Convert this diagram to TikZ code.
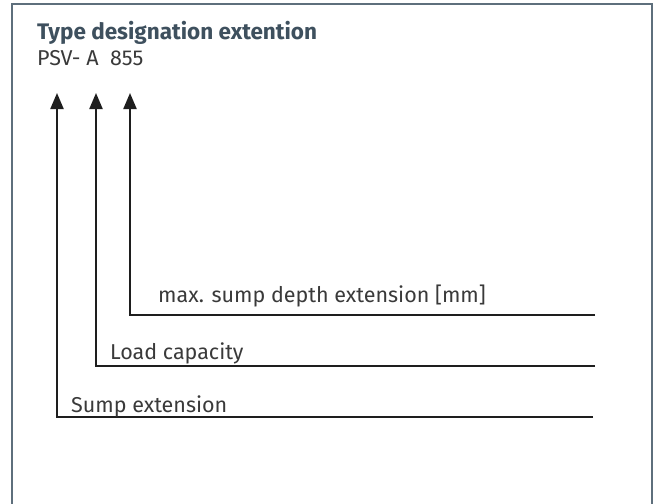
\documentclass[tikz,border=0pt]{standalone}
\usepackage{fontspec}
\setmainfont{Fira Sans}
\usetikzlibrary{arrows.meta}
\definecolor{framecol}{HTML}{5E6F7C}
\definecolor{titlecol}{HTML}{3E505E}
\definecolor{textcol}{HTML}{3A3A3A}
\definecolor{linecol}{HTML}{1E1E1E}
\tikzset{
  frameline/.style={draw=framecol, line width=1.5pt},
  leader/.style={draw=linecol, line width=2.2pt, -{Triangle[length=16pt,width=13pt]}},
  label/.style={anchor=base west, inner sep=0pt, text=textcol, font=\fontsize{21.5}{24}\selectfont},
}
\begin{document}
\begin{tikzpicture}[x=1pt,y=-1pt]
\useasboundingbox (0,0) rectangle (657,504);
\fill[white] (0,0) rectangle (657,504);
\draw[frameline] (12,504) -- (12,4) -- (652,4) -- (652,504);
\node[anchor=base west, inner sep=0pt, text=titlecol, font=\fontsize{22.5}{24}\selectfont\bfseries] (title) at (37,39) {Type designation extention};
\node[label] (code) at (37,65) {PSV- A\ \ 855};
\coordinate (a1) at (57,93);
\coordinate (a2) at (96,93);
\coordinate (a3) at (130,93);
\coordinate (e1) at (593,417);
\coordinate (e2) at (595,366);
\coordinate (e3) at (595,315);
\draw[leader] (e1) -| (a1);
\draw[leader] (e2) -| (a2);
\draw[leader] (e3) -| (a3);
\node[label] (l3) at (158,302) {max. sump depth extension [mm]};
\node[label] (l2) at (110,359) {Load capacity};
\node[label] (l1) at (71,412) {Sump extension};
\end{tikzpicture}
\end{document}
